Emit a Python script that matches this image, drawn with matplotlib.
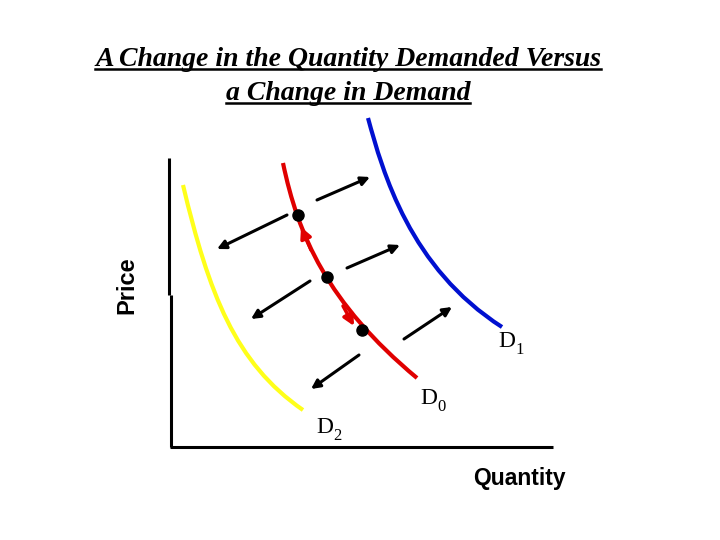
import numpy as np
import matplotlib.pyplot as plt
from matplotlib.path import Path
from matplotlib.patches import PathPatch

# demand curves as cubic Bezier nodes: start, control, control, end
# (pixel coordinates, y grows downwards)
d2_nodes = [(183, 185), (209, 294), (235, 363), (303, 410)]
d0_nodes = [(283, 163), (298, 235), (327, 303), (417, 378)]
d1_nodes = [(368, 118), (383, 173), (410, 268), (502, 327)]

# points on D0
dots_x = [298, 327, 362]
dots_y = [215, 277, 330]

# shift arrows: (tail x, tail y, head x, head y)
right_arrows = [(317, 200, 370, 177), (347, 268, 400, 245), (404, 339, 452, 307)]
left_arrows = [(287, 215, 217, 249), (310, 281, 251, 319), (359, 355, 311, 389)]
# movements along D0
along_arrows = [(311, 250, 301, 227), (343, 306, 354, 326)]

title_lines = ["A Change in the Quantity Demanded Versus", "a Change in Demand"]
curve_labels = [("D", "1", 498, 347), ("D", "0", 420, 404), ("D", "2", 316, 433)]

fig = plt.figure(figsize=(7.2, 5.4), dpi=100)
ax = fig.add_axes([0, 0, 1, 1])
ax.set_xlim(0, 720)
ax.set_ylim(540, 0)
ax.axis("off")

# axes lines
ax.plot([169, 169], [158, 295], color="black", lw=2.2, solid_capstyle="butt")
ax.plot([171, 171], [295, 447], color="black", lw=2.2, solid_capstyle="butt")
ax.plot([170, 553], [447, 447], color="black", lw=2.2, solid_capstyle="butt")

codes = [Path.MOVETO, Path.CURVE4, Path.CURVE4, Path.CURVE4]
for nodes, col in [(d2_nodes, "#ffff1a"), (d1_nodes, "#0010d0"), (d0_nodes, "#e00000")]:
    ax.add_patch(PathPatch(Path(nodes, codes), facecolor="none", edgecolor=col,
                           lw=3.0, capstyle="butt"))

for x0, y0, x1, y1 in along_arrows:
    ax.annotate("", xy=(x1, y1), xytext=(x0, y0),
                arrowprops=dict(arrowstyle="-|>", color="#e00000", lw=2.5,
                                mutation_scale=16, shrinkA=0, shrinkB=0))

for x0, y0, x1, y1 in right_arrows + left_arrows:
    ax.annotate("", xy=(x1, y1), xytext=(x0, y0),
                arrowprops=dict(arrowstyle="-|>", color="black", lw=2.2,
                                mutation_scale=13, shrinkA=0, shrinkB=0))

ax.plot(dots_x, dots_y, "o", color="black", markersize=8, zorder=5)

for main, sub, x, y in curve_labels:
    ax.text(x, y, main, family="Liberation Serif", fontsize=17, va="baseline")
    ax.annotate(sub, xy=(x, y), xytext=(12.5, -5), textcoords="offset points",
                family="Liberation Serif", fontsize=12, va="baseline")

ax.text(127, 285, "Price", family="Liberation Sans", fontweight="bold",
        fontsize=17, rotation=90, ha="center", va="center")
ax.text(519, 478, "Quantity", family="Liberation Sans", fontweight="bold",
        fontsize=16.5, ha="center", va="center")

# title with underline
baselines = [66, 100]
titles = []
for line, yb in zip(title_lines, baselines):
    t = ax.text(348, yb, line, family="Liberation Serif", fontstyle="italic",
                fontweight="bold", fontsize=20, ha="center", va="baseline")
    titles.append((t, yb))

fig.canvas.draw()
renderer = fig.canvas.get_renderer()
inv = ax.transData.inverted()
for t, yb in titles:
    bb = t.get_window_extent(renderer)
    (xa, _), (xb, _) = inv.transform([(bb.x0, bb.y0), (bb.x1, bb.y1)])
    ax.plot([xa, xb], [yb + 3, yb + 3], color="black", lw=1.8)

fig.savefig("out.png", dpi=100)
